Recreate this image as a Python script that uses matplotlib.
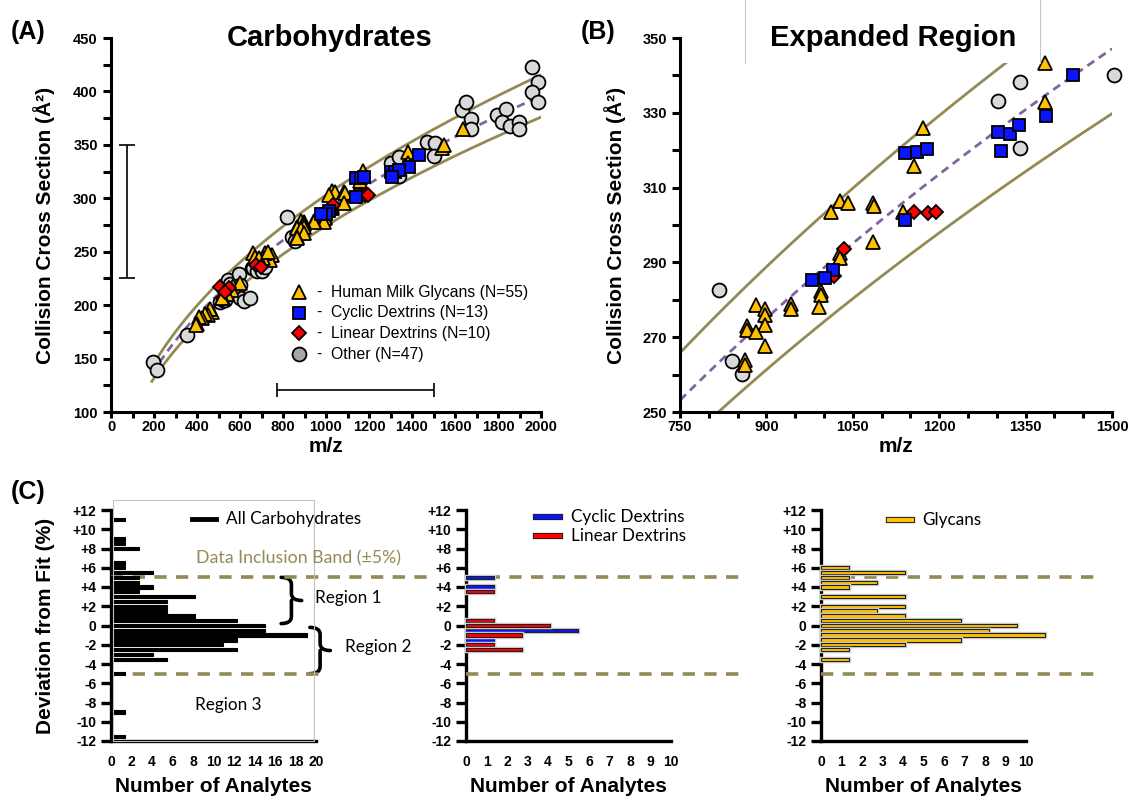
import matplotlib.pyplot as plt
import numpy as np
from matplotlib.lines import Line2D
from matplotlib.patches import Rectangle, PathPatch
from matplotlib.path import Path
from matplotlib.ticker import MultipleLocator
import matplotlib.patheffects as pe

plt.rcParams['font.family'] = ['Liberation Sans', 'DejaVu Sans']

# ---- CCS vs m/z data ----
glycan_mz = [1383, 1383, 1172, 1157, 1027, 1042, 1012, 1085, 1087, 1137, 1085, 1027, 1028,
             995, 995, 992, 943, 943, 882, 898, 898, 898, 866, 866, 882, 898, 863, 863,
             1538, 1549, 1639,
             747, 740, 716, 705, 662, 668, 690, 569, 561, 540, 522, 515, 470, 460, 453,
             437, 422, 411, 398, 395, 600, 730]
glycan_ccs = [343.2, 333.0, 325.9, 315.8, 306.5, 305.8, 303.4, 305.8, 305.2, 303.4, 295.4, 292.4, 291.1,
              282.4, 281.3, 278.2, 278.9, 277.5, 278.6, 277.5, 275.9, 273.3, 273.1, 271.9, 271.5, 267.6, 263.9, 262.6,
              346.8, 349.9, 364.8,
              246.9, 242.2, 248.5, 243.8, 248.5, 245.5, 244.5, 217.9, 214.2, 210.0, 206.4, 206.4, 194.0, 196.1, 190.8,
              191.4, 187.7, 188.6, 182.4, 181.4, 221.0, 250.0]

cyclic_mz = [1432, 1385, 1302, 1323, 1339, 1308, 1141, 1161, 1179, 1141, 1016, 1002, 979]
cyclic_ccs = [340.1, 329.2, 324.8, 324.3, 326.8, 319.9, 319.3, 319.4, 320.2, 301.3, 288.0, 285.7, 285.3]

linear_mz = [1157, 1180, 1195, 1034, 1018, 507, 550, 530, 674, 696]
linear_ccs = [303.4, 303.1, 303.4, 293.5, 286.4, 217.3, 215.8, 212.6, 237.6, 235.4]

other_mz = [194, 212, 352, 505, 520, 530, 546, 553, 565, 597, 600, 600, 620, 647, 654, 662,
            680, 700, 716, 817, 840, 857, 1302, 1341, 1341, 1468, 1507, 1503,
            1631, 1650, 1673, 1673, 1794, 1836, 1817, 1856, 1899, 1899, 1960, 1985, 1960, 1985]
other_ccs = [147.1, 139.3, 172.1, 203.0, 205.0, 204.8, 223.5, 220.0, 210.0, 229.2, 218.9, 206.4, 204.0, 206.4, 234.5, 234.5,
             232.0, 232.0, 236.0, 282.6, 263.7, 260.1, 333.2, 338.2, 320.7, 353.0, 351.5, 340.0,
             382.6, 390.4, 374.0, 364.8, 378.0, 383.3, 371.7, 367.9, 371.7, 364.6, 422.6, 409.1, 399.8, 390.4]

# power-law fit CCS = a * (m/z)^b and the +/-5% inclusion band
fit_a, fit_b = 12.41, 0.4555
band = 0.05

# ---- deviation histograms (bin centre in %, number of analytes) ----
dev_all = [11, 9, 8.5, 8, 6.5, 6, 5.5, 5, 4.5, 4, 3.5, 3, 2.5, 2, 1.5, 1, 0.5, 0,
           -0.5, -1, -1.5, -2, -2.5, -3, -3.5, -5, -9, -11.5]
n_all = [1, 1, 1, 2, 1, 1, 3, 2, 2, 3, 2, 6, 4, 4, 4, 6, 9, 11,
         11, 14, 9, 8, 9, 3, 4, 1, 1, 1]

dev_cyc = [5, 4, -0.5, -1.5]
n_cyc = [1, 1, 4, 1]
dev_lin = [3.5, 0.5, 0, -1, -2, -2.5]
n_lin = [1, 1, 3, 2, 1, 2]

dev_gly = [6, 5.5, 5, 4.5, 4, 3, 2, 1.5, 1, 0.5, 0, -0.5, -1, -1.5, -2, -2.5, -3.5]
n_gly = [1, 3, 1, 2, 1, 3, 3, 2, 3, 5, 7, 6, 8, 5, 3, 1, 1]

YEL = '#ffc000'
BLU = '#0a14ff'
RED = '#ff0000'
GRY = '#d9d9d9'
OLIVE = '#948a54'
PURP = '#8064a2'

W, H = 1131, 800
fig = plt.figure(figsize=(W / 100, H / 100), dpi=100)


def fx(px):
    return px / W


def fy(py):
    return 1 - py / H


def add_axes_px(l, t, r, b):
    return fig.add_axes([fx(l), fy(b), (r - l) / W, (b - t) / H])


def style_axes(ax, lw=2.2, labelsize=10.5):
    for s in ['top', 'right']:
        ax.spines[s].set_visible(False)
    for s in ['left', 'bottom']:
        ax.spines[s].set_linewidth(lw)
    ax.tick_params(which='both', direction='out', width=lw, length=6, labelsize=labelsize)
    ax.tick_params(axis='x', which='both', length=4, pad=1.5)
    for lab in ax.get_xticklabels() + ax.get_yticklabels():
        lab.set_fontweight('bold')


def place_labels(ax, xlab, ylab, xy_x, xy_y, size=15):
    ax.set_xlabel(xlab, fontsize=size, fontweight='bold')
    ax.xaxis.set_label_coords(0.5, xy_x)
    ax.xaxis.label.set_verticalalignment('center')
    if ylab:
        ax.set_ylabel(ylab, fontsize=size, fontweight='bold')
        ax.yaxis.set_label_coords(xy_y, 0.5)
        ax.yaxis.label.set_verticalalignment('center')


def fit(mz):
    return fit_a * np.power(mz, fit_b)


def draw_points(ax, lims=None):
    sets = [
        (other_mz, other_ccs, 'o', 10, GRY, 3),
        (glycan_mz, glycan_ccs, '^', 10.5, YEL, 4),
        (linear_mz, linear_ccs, 'D', 7, RED, 5),
        (cyclic_mz, cyclic_ccs, 's', 8, BLU, 6),
    ]
    for mz, ccs, m, ms, fc, z in sets:
        mz = np.asarray(mz, float)
        ccs = np.asarray(ccs, float)
        if lims is not None:
            keep = (mz >= lims[0]) & (mz <= lims[1]) & (ccs >= lims[2]) & (ccs <= lims[3])
            mz, ccs = mz[keep], ccs[keep]
        ax.plot(mz, ccs, m, ms=ms, mfc=fc, mec='black', mew=1.3, ls='none',
                zorder=z, clip_on=False)


# ---------------- (A) full range ----------------
axA = add_axes_px(111, 38, 541, 412)
mz_line = np.linspace(190, 2000, 300)
axA.plot(mz_line, fit(mz_line) * (1 + band), color=OLIVE, lw=2, zorder=2)
axA.plot(mz_line, fit(mz_line) * (1 - band), color=OLIVE, lw=2, zorder=2)
axA.plot(mz_line, fit(mz_line), color=PURP, lw=2, ls=(0, (3, 2)), zorder=2)
draw_points(axA)
axA.set_xlim(0, 2000)
axA.set_ylim(100, 450)
axA.xaxis.set_major_locator(MultipleLocator(200))
axA.xaxis.set_minor_locator(MultipleLocator(100))
axA.yaxis.set_major_locator(MultipleLocator(50))
axA.yaxis.set_minor_locator(MultipleLocator(25))
style_axes(axA)
place_labels(axA, 'm/z', 'Collision Cross Section (Å²)', -0.092, -0.155)

# range markers for the expanded region
axA.errorbar([75], [287.5], yerr=[[62.5], [62.5]], color='black', lw=1.2, capsize=6, capthick=1.2)
axA.errorbar([1135], [121], xerr=[[365], [365]], color='black', lw=1.2, capsize=5, capthick=1.2)

# legend
leg_rows = [('^', 10.5, YEL, 'Human Milk Glycans (N=55)'),
            ('s', 8, BLU, 'Cyclic Dextrins (N=13)'),
            ('D', 7, RED, 'Linear Dextrins (N=10)'),
            ('o', 10, '#a6a6a6', 'Other (N=47)')]
for i, (m, ms, fc, txt) in enumerate(leg_rows):
    yy = 292 + i * 20.7
    fig.add_artist(Line2D([fx(299)], [fy(yy)], marker=m, ms=ms, mfc=fc, mec='black', mew=1.3, ls='none'))
    fig.text(fx(316), fy(yy), '-', fontsize=11.3, va='center')
    fig.text(fx(331), fy(yy), txt, fontsize=11.3, va='center')

fig.text(fx(330), fy(38), 'Carbohydrates', fontsize=21, fontweight='bold', ha='center', va='center')
fig.text(fx(28), fy(32), '(A)', fontsize=18, fontweight='bold', ha='center', va='center')

# ---------------- (B) expanded region ----------------
axB = add_axes_px(680, 38, 1112, 412)
mz_line = np.linspace(750, 1500, 200)
axB.plot(mz_line, fit(mz_line) * (1 + band), color=OLIVE, lw=2, zorder=2)
axB.plot(mz_line, fit(mz_line) * (1 - band), color=OLIVE, lw=2, zorder=2)
axB.plot(mz_line, fit(mz_line), color=PURP, lw=2, ls=(0, (3, 2)), zorder=2)
draw_points(axB, lims=(745, 1505, 249, 350))
axB.set_xlim(750, 1500)
axB.set_ylim(250, 350)
axB.set_xticks(np.arange(750, 1501, 150))
axB.xaxis.set_minor_locator(MultipleLocator(50))
axB.set_yticks(np.arange(250, 351, 20))
axB.yaxis.set_minor_locator(MultipleLocator(10))
style_axes(axB)
place_labels(axB, 'm/z', 'Collision Cross Section (Å²)', -0.092, -0.15)

fig.add_artist(Rectangle((fx(745), fy(63)), (1040 - 745) / W, 63 / H, transform=fig.transFigure,
                         facecolor='white', edgecolor='none', zorder=5))
for xb in (745, 1040):
    fig.add_artist(Line2D([fx(xb), fx(xb)], [fy(63), 1], color='#c8c8c8', lw=0.8, zorder=6))
fig.text(fx(893), fy(38), 'Expanded Region', fontsize=21, fontweight='bold', ha='center', va='center',
         zorder=7)
fig.text(fx(598), fy(32), '(B)', fontsize=18, fontweight='bold', ha='center', va='center')

# ---------------- (C) deviation histograms ----------------
CAL = ['Lato', 'DejaVu Sans']
glow = [pe.withStroke(linewidth=2.5, foreground='#cfcfcf')]


def hist_axes(left, right, xmax, step, count_span):
    ax = add_axes_px(left, 510, right, 741)
    ax.set_xlim(0, xmax)
    ax.set_ylim(-12, 12)
    ax.set_xticks(np.arange(0, xmax + 0.1, step))
    ax.set_yticks(np.arange(-12, 13, 2))
    ax.set_yticklabels([f'{v:+d}' if v != 0 else '0' for v in range(-12, 13, 2)])
    style_axes(ax, lw=2.4, labelsize=10)
    ax.tick_params(axis='y', length=7)
    ax.tick_params(axis='x', length=0, pad=10)
    place_labels(ax, 'Number of Analytes', None, -0.199, 0)
    # bars are drawn on their own count scale
    ov = ax.twiny()
    ov.set_xlim(0, count_span)
    ov.axis('off')
    return ax, ov


def hbars(ov, dev, n, color, edge, effects=None):
    bars = ov.barh(dev, n, height=0.34, color=color, edgecolor=edge, lw=0.8, zorder=3)
    for b in bars:
        b.set_clip_on(False)
        if effects:
            b.set_path_effects(effects)


def band_lines(ax, x_end_top, x_end_bot):
    ax.plot([0, x_end_top], [5, 5], color=OLIVE, lw=2.6, ls=(0, (3.4, 2.6)), clip_on=False, zorder=6)
    ax.plot([0, x_end_bot], [-5, -5], color=OLIVE, lw=2.6, ls=(0, (3.4, 2.6)), clip_on=False, zorder=6)


def brace(ax, x, y0, y1, w):
    ym = (y0 + y1) / 2
    h = (y1 - y0) / 2
    xm = x + w / 2
    verts = [(x, y1), (xm, y1), (xm, y1 - 0.3 * h),
             (xm, ym + 0.3 * h),
             (xm, ym), (x + w, ym),
             (xm, ym), (xm, ym - 0.3 * h),
             (xm, y0 + 0.3 * h),
             (xm, y0), (x, y0)]
    codes = [Path.MOVETO, Path.CURVE3, Path.CURVE3, Path.LINETO,
             Path.CURVE3, Path.CURVE3, Path.MOVETO, Path.CURVE3, Path.LINETO,
             Path.CURVE3, Path.CURVE3]
    ax.add_patch(PathPatch(Path(verts, codes), fill=False, lw=2.6, color='black',
                           clip_on=False, capstyle='round'))


# all carbohydrates
axC1, ov1 = hist_axes(111, 316, 20, 2, 20 * 10.25 / 14)
hbars(ov1, dev_all, n_all, 'black', 'black')
axC1.set_ylabel('Deviation from Fit (%)', fontsize=15, fontweight='bold')
axC1.yaxis.set_label_coords(-0.32, 0.5)
axC1.yaxis.label.set_verticalalignment('center')
band_lines(axC1, 31.6, 21.0)
fig.add_artist(Rectangle((fx(113), fy(741)), (314 - 113) / W, (741 - 500) / H, transform=fig.transFigure,
                         facecolor='none', edgecolor='#c0c0c0', lw=0.8))
fig.add_artist(Line2D([fx(192), fx(216)], [fy(519), fy(519)], color='black', lw=3.5))
fig.text(fx(226), fy(519), 'All Carbohydrates', family=CAL, fontsize=12.3, va='center')
fig.text(fx(196), fy(558), 'Data Inclusion Band (±5%)', family=CAL, fontsize=12.8, color=OLIVE, va='center')
brace(axC1, 16.6, 0.2, 5.0, 2.0)
brace(axC1, 19.4, -5.0, -0.2, 2.0)
fig.text(fx(315), fy(598), 'Region 1', family=CAL, fontsize=12.3, va='center')
fig.text(fx(345), fy(647), 'Region 2', family=CAL, fontsize=12.3, va='center')
fig.text(fx(195), fy(705), 'Region 3', family=CAL, fontsize=12.3, va='center')

# cyclic and linear dextrins
axC2, ov2 = hist_axes(466, 671, 10, 1, 10 * 20.5 / 28)
hbars(ov2, dev_cyc, n_cyc, BLU, '#202020', glow)
hbars(ov2, dev_lin, n_lin, RED, '#202020', glow)
band_lines(axC2, 13.4, 13.4)
for yy, col, txt in [(517, BLU, 'Cyclic Dextrins'), (536, RED, 'Linear Dextrins')]:
    fig.add_artist(Line2D([fx(536), fx(560)], [fy(yy), fy(yy)], color=col, lw=3,
                          path_effects=[pe.withStroke(linewidth=4.5, foreground='#202020')]))
    fig.text(fx(571), fy(yy), txt, family=CAL, fontsize=12.3, va='center')

# glycans
axC3, ov3 = hist_axes(821, 1026, 10, 1, 10 * 20.5 / 28)
hbars(ov3, dev_gly, n_gly, YEL, '#202020', glow)
band_lines(axC3, 13.6, 13.6)
fig.add_artist(Line2D([fx(889), fx(912)], [fy(520), fy(520)], color=YEL, lw=3,
                      path_effects=[pe.withStroke(linewidth=4.5, foreground='#202020')]))
fig.text(fx(922), fy(520), 'Glycans', family=CAL, fontsize=12.3, va='center')

fig.text(fx(28), fy(492), '(C)', fontsize=18, fontweight='bold', ha='center', va='center')

fig.savefig('out.png', dpi=100)
